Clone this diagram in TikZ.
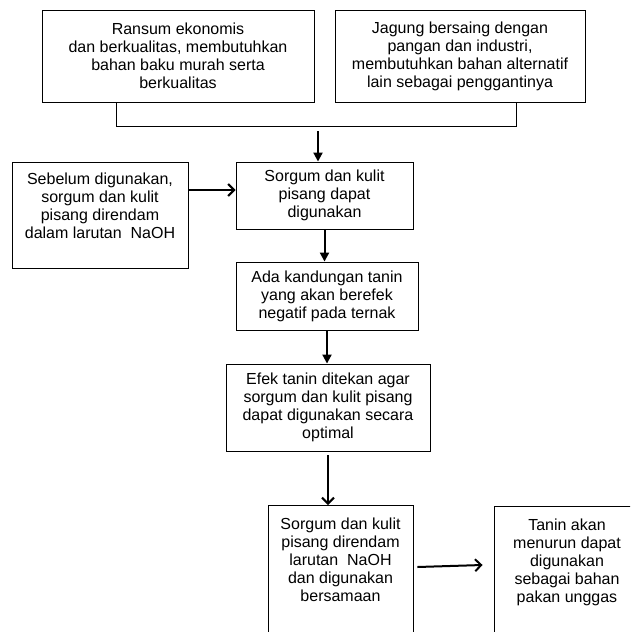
\documentclass[tikz,border=0pt]{standalone}
\usepackage{fontspec}
\setmainfont{Liberation Sans}
\usetikzlibrary{arrows.meta,positioning}

\begin{document}
\begin{tikzpicture}[
  x=1pt,y=-1pt,
  box/.style={draw,rectangle,align=center,inner sep=2pt,line width=0.9pt,
              font=\fontsize{16}{18}\selectfont},
  dnarrow/.style={line width=2pt,-{Triangle[length=9pt,width=9pt]}},
  barb/.style={line width=2pt,-{Straight Barb[length=6pt,width=12pt,line width=2pt]}}
]
\useasboundingbox (0,0) rectangle (630,632);
\clip (0,0) rectangle (630,632);

% ---- Top row ------------------------------------------------
\node[box,minimum width=272,minimum height=92] (ransum) at (178,56)
  {Ransum ekonomis\\ dan berkualitas, membutuhkan\\ bahan baku murah serta\\ berkualitas};
\node[box,minimum width=250,minimum height=92] (jagung) at (460,56)
  {Jagung bersaing dengan\\ pangan dan industri,\\ membutuhkan bahan alternatif\\ lain sebagai penggantinya};

% bracket joining both boxes
\draw[line width=0.9pt] ([xshift=-62pt]ransum.south) -- ++(0,24) -| ([xshift=56pt]jagung.south);
\coordinate (join) at (318,131);

% ---- Middle column ------------------------------------------
\node[box,minimum width=176,minimum height=106] (sebelum) at (100,215)
  {Sebelum digunakan,\\ sorgum dan kulit\\ pisang direndam\\ dalam larutan\ \ NaOH\\ \mbox{}};
\node[box,minimum width=177,minimum height=67] (dapat) at (324.5,195.5)
  {Sorgum dan kulit\\ pisang dapat\\ digunakan};
\node[box,minimum width=182,minimum height=68] (ada) at (327,296)
  {Ada kandungan tanin\\ yang akan berefek\\ negatif pada ternak};
\node[box,minimum width=204,minimum height=87] (efek) at (328,407.5)
  {Efek tanin ditekan agar\\ sorgum dan kulit pisang\\ dapat digunakan secara\\ optimal};

% ---- Bottom row ---------------------------------------------
\node[box,anchor=north,minimum width=145,minimum height=162] (rendam) at (340.5,505)
  {Sorgum dan kulit\\ pisang direndam\\ larutan\ \ NaOH\\ dan digunakan\\ bersamaan\\ \mbox{}\\ \mbox{}\\ \mbox{}};
\node[box,anchor=north,minimum width=146,minimum height=162] (tanin) at (567,506)
  {Tanin akan\\ menurun dapat\\ digunakan\\ sebagai bahan\\ pakan unggas\\ \mbox{}\\ \mbox{}\\ \mbox{}};

% ---- Arrows -------------------------------------------------
\draw[dnarrow] (join) -- (join |- dapat.north);
\draw[barb] ([yshift=25pt]sebelum.east) -- ([yshift=25pt]sebelum.east -| dapat.west);
\draw[dnarrow] (dapat.south) -- (dapat.south |- ada.north);
\draw[dnarrow] (ada.south) -- (ada.south |- efek.north);
\draw[barb] ([yshift=-4pt]efek.south) -- (efek.south |- rendam.north);
\draw[barb] ([shift={(4pt,-62pt)}]rendam.north east) -- ([shift={(-11pt,-59pt)}]tanin.north west);

\end{tikzpicture}
\end{document}
